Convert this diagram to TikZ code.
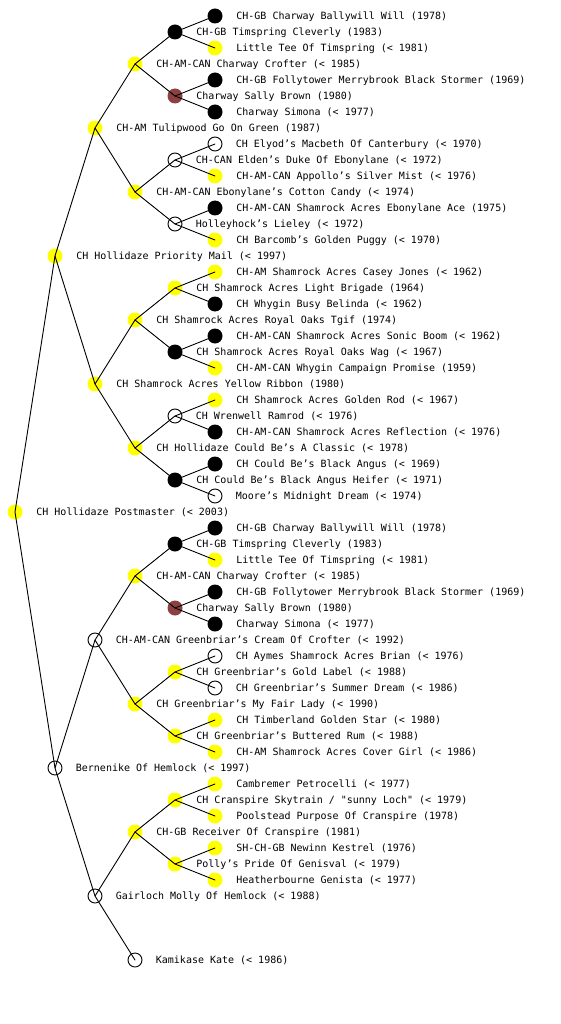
\documentclass[tikz,border=0pt]{standalone}
\usepackage{fontspec}
\usepackage{xcolor}
\usepackage{tikz}
\newfontfamily\pedfont{DejaVu Sans Mono}
\definecolor{dogyellow}{RGB}{255,255,0}
\definecolor{dogbrown}{RGB}{140,64,64}
\tikzset{
	dog/.style={circle, inner sep=0pt, minimum size=15pt, draw=none},
	yel/.style={dog, fill=dogyellow},
	blk/.style={dog, fill=black},
	brn/.style={dog, fill=dogbrown},
	wht/.style={dog, fill=white, draw=black, line width=0.9pt, minimum size=14pt},
	lbl/.style={inner sep=0pt, label distance=13pt, text height=0.73em, text depth=0pt,
		font=\pedfont\fontsize{10}{12}\selectfont},
}

\begin{document}
\begin{tikzpicture}[x=1pt, y=-1pt, line join=round, line cap=round, line width=0.9pt]
	
	% --- 0. 画布大小 ---
	\useasboundingbox (0,0) rectangle (560,1024);
	
	% --- 1. 第 0 代 ---
	\node[yel, label={[lbl]0:CH Hollidaze Postmaster (< 2003)}] (r) at (15,512) {};
	
	% --- 2. 父系 ---
	\node[yel, label={[lbl]0:CH Hollidaze Priority Mail (< 1997)}] (rs) at (55,256) {};
	\node[yel, label={[lbl]0:CH-AM Tulipwood Go On Green (1987)}] (rss) at (95,128) {};
	\node[yel, label={[lbl]0:CH-AM-CAN Charway Crofter (< 1985)}] (rsss) at (135,64) {};
	\node[blk, label={[lbl]0:CH-GB Timspring Cleverly (1983)}] (rssss) at (175,32) {};
	\node[blk, label={[lbl]0:CH-GB Charway Ballywill Will (1978)}] (rsssss) at (215,16) {};
	\node[yel, label={[lbl]0:Little Tee Of Timspring (< 1981)}] (rssssd) at (215,48) {};
	\node[brn, label={[lbl]0:Charway Sally Brown (1980)}] (rsssd) at (175,96) {};
	\node[blk, label={[lbl]0:CH-GB Follytower Merrybrook Black Stormer (1969)}] (rsssds) at (215,80) {};
	\node[blk, label={[lbl]0:Charway Simona (< 1977)}] (rsssdd) at (215,112) {};
	\node[yel, label={[lbl]0:CH-AM-CAN Ebonylane’s Cotton Candy (< 1974)}] (rssd) at (135,192) {};
	\node[wht, label={[lbl]0:CH-CAN Elden’s Duke Of Ebonylane (< 1972)}] (rssds) at (175,160) {};
	\node[wht, label={[lbl]0:CH Elyod’s Macbeth Of Canterbury (< 1970)}] (rssdss) at (215,144) {};
	\node[yel, label={[lbl]0:CH-AM-CAN Appollo’s Silver Mist (< 1976)}] (rssdsd) at (215,176) {};
	\node[wht, label={[lbl]0:Holleyhock’s Lieley (< 1972)}] (rssdd) at (175,224) {};
	\node[blk, label={[lbl]0:CH-AM-CAN Shamrock Acres Ebonylane Ace (1975)}] (rssdds) at (215,208) {};
	\node[yel, label={[lbl]0:CH Barcomb’s Golden Puggy (< 1970)}] (rssddd) at (215,240) {};
	\node[yel, label={[lbl]0:CH Shamrock Acres Yellow Ribbon (1980)}] (rsd) at (95,384) {};
	\node[yel, label={[lbl]0:CH Shamrock Acres Royal Oaks Tgif (1974)}] (rsds) at (135,320) {};
	\node[yel, label={[lbl]0:CH Shamrock Acres Light Brigade (1964)}] (rsdss) at (175,288) {};
	\node[yel, label={[lbl]0:CH-AM Shamrock Acres Casey Jones (< 1962)}] (rsdsss) at (215,272) {};
	\node[blk, label={[lbl]0:CH Whygin Busy Belinda (< 1962)}] (rsdssd) at (215,304) {};
	\node[blk, label={[lbl]0:CH Shamrock Acres Royal Oaks Wag (< 1967)}] (rsdsd) at (175,352) {};
	\node[blk, label={[lbl]0:CH-AM-CAN Shamrock Acres Sonic Boom (< 1962)}] (rsdsds) at (215,336) {};
	\node[yel, label={[lbl]0:CH-AM-CAN Whygin Campaign Promise (1959)}] (rsdsdd) at (215,368) {};
	\node[yel, label={[lbl]0:CH Hollidaze Could Be’s A Classic (< 1978)}] (rsdd) at (135,448) {};
	\node[wht, label={[lbl]0:CH Wrenwell Ramrod (< 1976)}] (rsdds) at (175,416) {};
	\node[yel, label={[lbl]0:CH Shamrock Acres Golden Rod (< 1967)}] (rsddss) at (215,400) {};
	\node[blk, label={[lbl]0:CH-AM-CAN Shamrock Acres Reflection (< 1976)}] (rsddsd) at (215,432) {};
	\node[blk, label={[lbl]0:CH Could Be’s Black Angus Heifer (< 1971)}] (rsddd) at (175,480) {};
	\node[blk, label={[lbl]0:CH Could Be’s Black Angus (< 1969)}] (rsddds) at (215,464) {};
	\node[wht, label={[lbl]0:Moore’s Midnight Dream (< 1974)}] (rsdddd) at (215,496) {};
	
	% --- 3. 母系 ---
	\node[wht, label={[lbl]0:Bernenike Of Hemlock (< 1997)}] (rd) at (55,768) {};
	\node[wht, label={[lbl]0:CH-AM-CAN Greenbriar’s Cream Of Crofter (< 1992)}] (rds) at (95,640) {};
	\node[yel, label={[lbl]0:CH-AM-CAN Charway Crofter (< 1985)}] (rdss) at (135,576) {};
	\node[blk, label={[lbl]0:CH-GB Timspring Cleverly (1983)}] (rdsss) at (175,544) {};
	\node[blk, label={[lbl]0:CH-GB Charway Ballywill Will (1978)}] (rdssss) at (215,528) {};
	\node[yel, label={[lbl]0:Little Tee Of Timspring (< 1981)}] (rdsssd) at (215,560) {};
	\node[brn, label={[lbl]0:Charway Sally Brown (1980)}] (rdssd) at (175,608) {};
	\node[blk, label={[lbl]0:CH-GB Follytower Merrybrook Black Stormer (1969)}] (rdssds) at (215,592) {};
	\node[blk, label={[lbl]0:Charway Simona (< 1977)}] (rdssdd) at (215,624) {};
	\node[yel, label={[lbl]0:CH Greenbriar’s My Fair Lady (< 1990)}] (rdsd) at (135,704) {};
	\node[yel, label={[lbl]0:CH Greenbriar’s Gold Label (< 1988)}] (rdsds) at (175,672) {};
	\node[wht, label={[lbl]0:CH Aymes Shamrock Acres Brian (< 1976)}] (rdsdss) at (215,656) {};
	\node[wht, label={[lbl]0:CH Greenbriar’s Summer Dream (< 1986)}] (rdsdsd) at (215,688) {};
	\node[yel, label={[lbl]0:CH Greenbriar’s Buttered Rum (< 1988)}] (rdsdd) at (175,736) {};
	\node[yel, label={[lbl]0:CH Timberland Golden Star (< 1980)}] (rdsdds) at (215,720) {};
	\node[yel, label={[lbl]0:CH-AM Shamrock Acres Cover Girl (< 1986)}] (rdsddd) at (215,752) {};
	\node[wht, label={[lbl]0:Gairloch Molly Of Hemlock (< 1988)}] (rdd) at (95,896) {};
	\node[yel, label={[lbl]0:CH-GB Receiver Of Cranspire (1981)}] (rdds) at (135,832) {};
	\node[yel, label={[lbl]0:CH Cranspire Skytrain / "sunny Loch" (< 1979)}] (rddss) at (175,800) {};
	\node[yel, label={[lbl]0:Cambremer Petrocelli (< 1977)}] (rddsss) at (215,784) {};
	\node[yel, label={[lbl]0:Poolstead Purpose Of Cranspire (1978)}] (rddssd) at (215,816) {};
	\node[yel, label={[lbl]0:Polly’s Pride Of Genisval (< 1979)}] (rddsd) at (175,864) {};
	\node[yel, label={[lbl]0:SH-CH-GB Newinn Kestrel (1976)}] (rddsds) at (215,848) {};
	\node[yel, label={[lbl]0:Heatherbourne Genista (< 1977)}] (rddsdd) at (215,880) {};
	\node[wht, label={[lbl]0:Kamikase Kate (< 1986)}] (rddd) at (135,960) {};
	
	% --- 4. 连线 (父 -- 子, 画在圆上面) ---
	\draw (rs.center) -- (r.center) -- (rd.center);
	
	\draw (rss.center) -- (rs.center) -- (rsd.center);
	\draw (rsss.center) -- (rss.center) -- (rssd.center);
	\draw (rssss.center) -- (rsss.center) -- (rsssd.center);
	\draw (rsssss.center) -- (rssss.center) -- (rssssd.center);
	\draw (rsssds.center) -- (rsssd.center) -- (rsssdd.center);
	\draw (rssds.center) -- (rssd.center) -- (rssdd.center);
	\draw (rssdss.center) -- (rssds.center) -- (rssdsd.center);
	\draw (rssdds.center) -- (rssdd.center) -- (rssddd.center);
	\draw (rsds.center) -- (rsd.center) -- (rsdd.center);
	\draw (rsdss.center) -- (rsds.center) -- (rsdsd.center);
	\draw (rsdsss.center) -- (rsdss.center) -- (rsdssd.center);
	\draw (rsdsds.center) -- (rsdsd.center) -- (rsdsdd.center);
	\draw (rsdds.center) -- (rsdd.center) -- (rsddd.center);
	\draw (rsddss.center) -- (rsdds.center) -- (rsddsd.center);
	\draw (rsddds.center) -- (rsddd.center) -- (rsdddd.center);
	
	\draw (rds.center) -- (rd.center) -- (rdd.center);
	\draw (rdss.center) -- (rds.center) -- (rdsd.center);
	\draw (rdsss.center) -- (rdss.center) -- (rdssd.center);
	\draw (rdssss.center) -- (rdsss.center) -- (rdsssd.center);
	\draw (rdssds.center) -- (rdssd.center) -- (rdssdd.center);
	\draw (rdsds.center) -- (rdsd.center) -- (rdsdd.center);
	\draw (rdsdss.center) -- (rdsds.center) -- (rdsdsd.center);
	\draw (rdsdds.center) -- (rdsdd.center) -- (rdsddd.center);
	\draw (rdds.center) -- (rdd.center) -- (rddd.center);
	\draw (rddss.center) -- (rdds.center) -- (rddsd.center);
	\draw (rddsss.center) -- (rddss.center) -- (rddssd.center);
	\draw (rddsds.center) -- (rddsd.center) -- (rddsdd.center);
	
\end{tikzpicture}
\end{document}
